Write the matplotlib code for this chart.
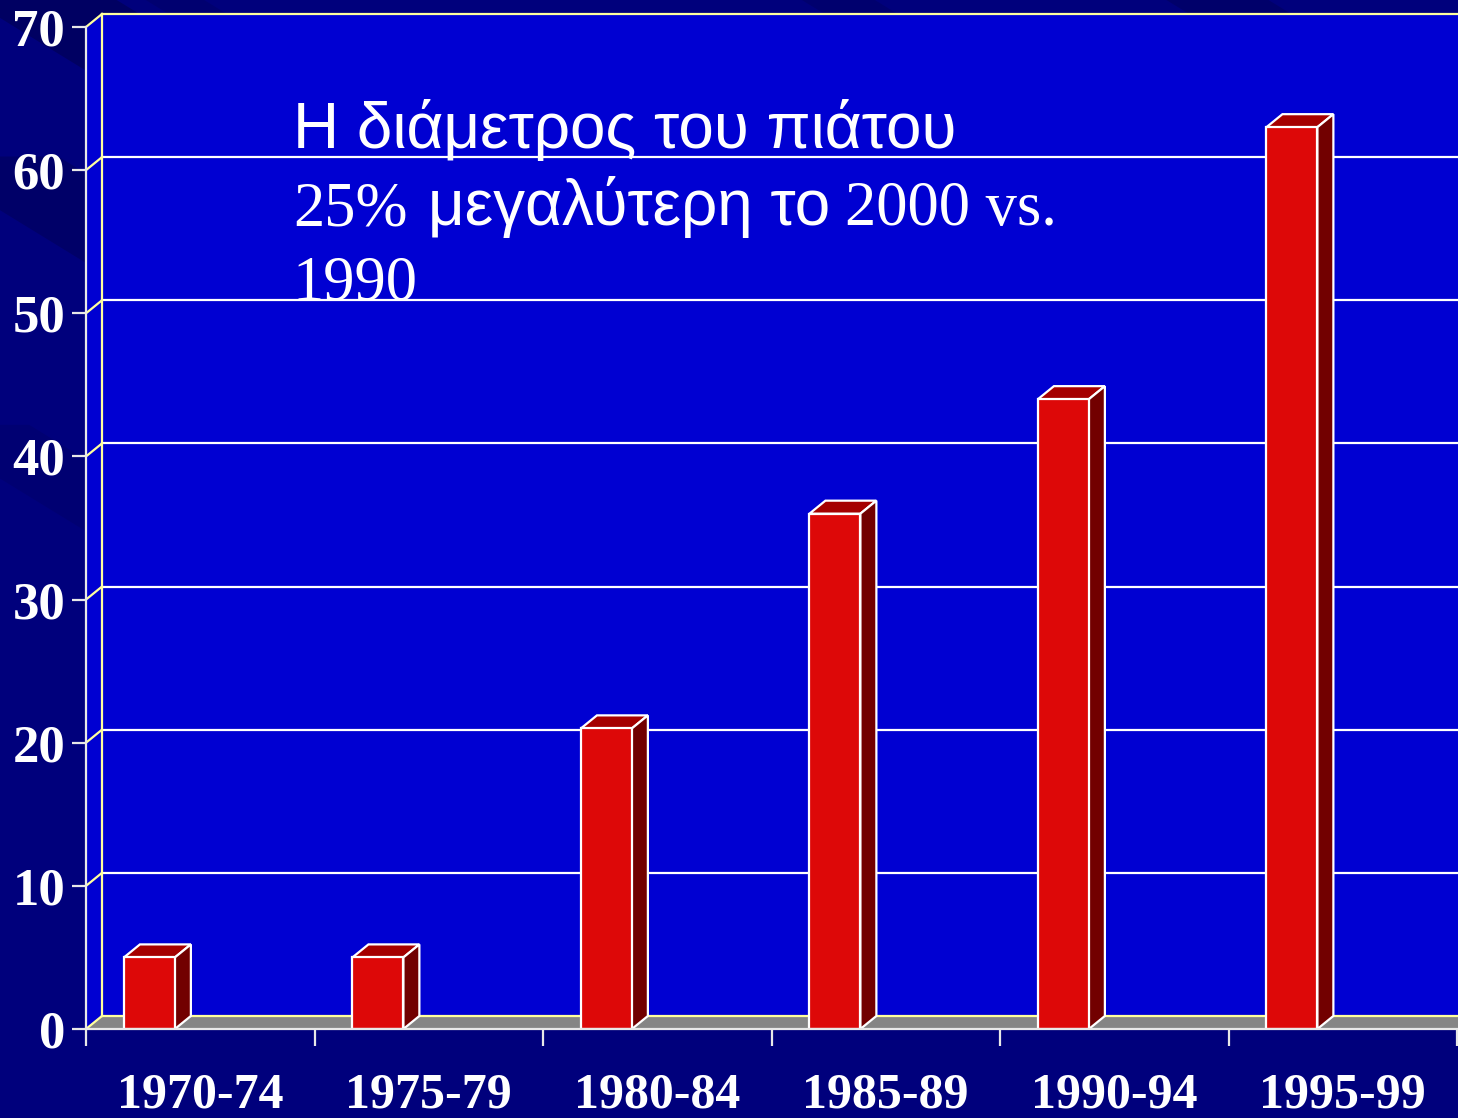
import matplotlib
matplotlib.use("Agg")
import matplotlib.pyplot as plt
from matplotlib.patches import Polygon

# data
periods = ["1970-74", "1975-79", "1980-84", "1985-89", "1990-94", "1995-99"]
values = [5, 5, 21, 36, 44, 63]
yticks = [0, 10, 20, 30, 40, 50, 60, 70]

note_line1 = "Η διάμετρος του πιάτου"
note_line2 = ["25%", "μεγαλύτερη το", "2000 vs."]
note_line3 = "1990"

# colours
bg = "#00007C"
wall = "#0000D2"
floor = "#858585"
bar_front = "#DD0808"
bar_top = "#A50000"
bar_side = "#720000"
pale = "#FFFF9E"

# 3d depth in data units
DX = 0.07
DY = 0.91
BAR_OFF = 0.166
BAR_W = 0.223

fig = plt.figure(figsize=(14.58, 11.18), dpi=100, facecolor=bg)

# darker diagonal streaks of the slide background
for x0, y0, w, c in [(-0.02, 1.0, 0.10, "#000062"), (-0.06, 0.86, 0.10, "#000068"),
                     (-0.06, 0.62, 0.08, "#000072"), (0.10, 1.0, 0.04, "#000070"),
                     (0.55, 1.0, 0.05, "#00006E"), (0.80, 1.0, 0.07, "#00006A")]:
    fig.patches.append(Polygon([(x0, y0), (x0 + w, y0), (x0 + w + 0.15, y0 - 0.12),
                                (x0 + 0.15, y0 - 0.12)], closed=True, transform=fig.transFigure,
                               facecolor=c, edgecolor="none", zorder=-5))

ax = fig.add_axes([86 / 1458, 89 / 1118, 1371 / 1458, 1002 / 1118])
ax.set_facecolor("none")
ax.set_xlim(0, 6)
ax.set_ylim(0, 70)
n = len(periods)

# back wall, side wall, floor
ax.add_patch(Polygon([(DX, DY), (n + 0.2, DY), (n + 0.2, 70 + DY), (DX, 70 + DY)],
                     facecolor=wall, edgecolor="none", clip_on=False, zorder=0))
ax.add_patch(Polygon([(0, 0), (DX, DY), (DX, 70 + DY), (0, 70)],
                     facecolor=wall, edgecolor="none", clip_on=False, zorder=0))
ax.add_patch(Polygon([(0, 0), (DX, DY), (n + 0.2, DY), (n + 0.2, 0)],
                     facecolor=floor, edgecolor="none", clip_on=False, zorder=1))

# gridlines
for t in yticks:
    col = "white" if 0 < t < 70 else pale
    ax.plot([DX, n + 0.2], [t + DY, t + DY], color=col, lw=1.6, clip_on=False, zorder=1)
    ax.plot([0, DX], [t, t + DY], color=pale, lw=1.6, clip_on=False, zorder=2)
ax.plot([DX, DX], [DY, 70 + DY], color=pale, lw=1.6, clip_on=False, zorder=2)

# bars
xs = [i + BAR_OFF for i in range(n)]
ax.bar(xs, values, width=BAR_W, align="edge", color=bar_front, edgecolor="white",
       linewidth=1.6, zorder=5)
for x, v in zip(xs, values):
    ax.add_patch(Polygon([(x, v), (x + DX, v + DY), (x + BAR_W + DX, v + DY), (x + BAR_W, v)],
                         facecolor=bar_top, edgecolor="white", lw=1.6, zorder=4, clip_on=False))
    ax.add_patch(Polygon([(x + BAR_W, 0), (x + BAR_W + DX, DY), (x + BAR_W + DX, v + DY), (x + BAR_W, v)],
                         facecolor=bar_side, edgecolor="white", lw=1.6, zorder=4, clip_on=False))

# axes
for s in ["top", "right"]:
    ax.spines[s].set_visible(False)
for s in ["left", "bottom"]:
    ax.spines[s].set_color("#E8E8E8")
    ax.spines[s].set_linewidth(1.6)
    ax.spines[s].set_zorder(6)

ax.set_yticks(yticks)
ax.set_yticklabels([str(t) for t in yticks])
ax.tick_params(axis="y", colors="#E8E8E8", length=10, width=1.6, pad=5,
               labelcolor="white")
ax.set_xticks([i + 0.5 for i in range(n)])
ax.set_xticklabels(periods)
ax.set_xticks(range(n + 1), minor=True)
ax.tick_params(axis="x", which="major", length=0, pad=31, labelcolor="white")
ax.tick_params(axis="x", which="minor", length=12, width=1.6, color="#E8E8E8")
for lab in ax.get_yticklabels():
    lab.set_fontfamily("Liberation Serif")
    lab.set_fontweight("bold")
    lab.set_fontsize(38)
for lab in ax.get_xticklabels():
    lab.set_fontfamily("Liberation Serif")
    lab.set_fontweight("bold")
    lab.set_fontsize(36)

# note text
def ax_x(px):
    return (px - 86) / 1371

def ax_y(py):
    return (1029 - py) / 1002

ax.text(ax_x(293), ax_y(148), note_line1, transform=ax.transAxes, color="white",
        fontsize=46, family="Liberation Sans", va="baseline", zorder=7)
for txt, px, fam in zip(note_line2, [293, 428, 845],
                        ["Liberation Serif", "Liberation Sans", "Liberation Serif"]):
    ax.text(ax_x(px), ax_y(225), txt, transform=ax.transAxes, color="white",
            fontsize=46 if fam == "Liberation Sans" else 45, family=fam,
            va="baseline", zorder=7)
ax.text(ax_x(293), ax_y(300), note_line3, transform=ax.transAxes, color="white",
        fontsize=45, family="Liberation Serif", va="baseline", zorder=7)

fig.savefig("out.png", dpi=100, facecolor=bg)
